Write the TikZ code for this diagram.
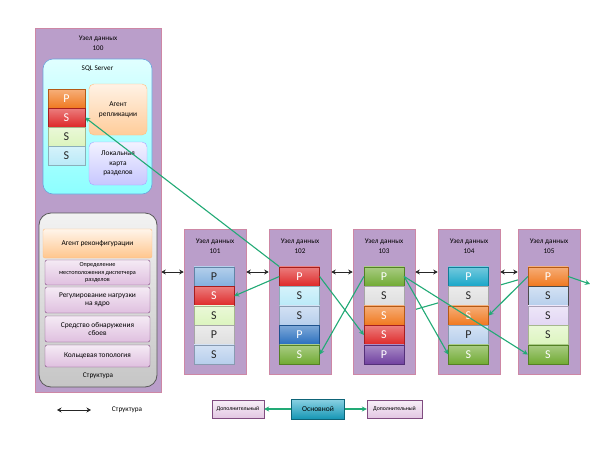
\documentclass[tikz,border=0pt]{standalone}
\usepackage{fontspec}
\setmainfont{Carlito}
\usetikzlibrary{arrows.meta,calc,shadings}
\definecolor{nodefill}{RGB}{186,158,202}
\definecolor{nodeline}{RGB}{205,135,165}
\definecolor{grn}{RGB}{34,170,118}
\definecolor{cR}{RGB}{222,40,40}
\definecolor{cO}{RGB}{240,120,30}
\definecolor{cLG}{RGB}{220,244,190}
\definecolor{cLC}{RGB}{186,234,248}
\definecolor{cLB}{RGB}{182,206,236}
\definecolor{cSB}{RGB}{130,176,222}
\definecolor{cGy}{RGB}{222,222,222}
\definecolor{cB}{RGB}{40,110,190}
\definecolor{cG}{RGB}{112,170,50}
\definecolor{cPu}{RGB}{112,64,160}
\definecolor{cT}{RGB}{24,166,200}
\definecolor{cLav}{RGB}{226,214,244}
\tikzset{
  dnode/.style={draw=nodeline, fill=nodefill, line width=0.6pt, inner sep=0pt},
  pbox/.style={draw=#1!75!black, line width=0.3pt, top color=#1!60!white, bottom color=#1, minimum width=40pt, minimum height=19.5pt, inner sep=0pt, font=\fontsize{12}{12}\selectfont},
  pdark/.style={pbox=#1, text=white},
  plight/.style={pbox=#1, text=black!85},
  item/.style={draw=violet!45!gray, line width=0.4pt, rounded corners=2pt, top color=violet!8!white, bottom color=violet!25!white, minimum width=105pt, inner sep=0pt, align=center, font=\fontsize{7.4}{8.4}\selectfont},
  lbl/.style={font=\fontsize{7.2}{10}\selectfont, align=center, inner sep=0pt},
  garrow/.style={draw=grn, line width=1.1pt, -{Stealth[length=5pt,width=5pt]}},
  barrow/.style={draw=black!85, line width=0.9pt, {Stealth[length=4.5pt,width=5pt]}-{Stealth[length=4.5pt,width=5pt]}},
}
\begin{document}
\begin{tikzpicture}[x=1pt,y=-1pt]
\useasboundingbox (0,0) rectangle (600,450);
\fill[white] (0,0) rectangle (600,450);

% hidden line behind node 104
\coordinate (h1) at (403,313);
\coordinate (h2) at (528,277);
\draw[draw=grn, line width=1.1pt] (h1) -- (h2);

% ---------- node 100 ----------
\node[dnode, minimum width=126pt, minimum height=364pt] (n100) at (98,210) {};
\node[lbl] (t100) at (98,43) {Узел данных\\100};
\node[draw=cyan!60!blue!60, line width=0.6pt, rounded corners=10pt, top color=cyan!12!white, bottom color=cyan!45!white, minimum width=109pt, minimum height=135pt] (sql) at (97.5,126.5) {};
\node[lbl] (tsql) at (97.5,69) {SQL Server};
\node[plight=cO, text=white, minimum width=37pt, minimum height=19pt] (s1) at (66.5,99) {P};
\node[pdark=cR, minimum width=37pt, minimum height=19pt] (s2) at (66.5,117.5) {S};
\node[plight=cLG, minimum width=37pt, minimum height=19pt] (s3) at (66.5,136.5) {S};
\node[plight=cLC, minimum width=37pt, minimum height=19pt] (s4) at (66.5,155.5) {S};
\node[draw=orange!50, line width=0.4pt, rounded corners=5pt, top color=orange!10!white, bottom color=orange!40!white, minimum width=58pt, minimum height=51pt, align=center, font=\fontsize{7.4}{9.5}\selectfont] (repl) at (118,109.5) {Агент\\репликации};
\node[draw=blue!35, line width=0.4pt, rounded corners=5pt, top color=blue!5!white, bottom color=blue!22!white, minimum width=58pt, minimum height=43pt, align=center, font=\fontsize{7.4}{9.5}\selectfont] (map) at (118,163.5) {Локальная\\карта\\разделов};

\node[draw=black!65, line width=0.8pt, rounded corners=12pt, top color=gray!10, bottom color=gray!45, minimum width=118pt, minimum height=174pt] (str) at (98,300) {};
\node[item, draw=orange!50, top color=orange!8!white, bottom color=orange!45!white, minimum width=109pt, minimum height=29pt] (i1) at (97.5,243.5) {Агент реконфигурации};
\node[item, minimum height=25pt, font=\fontsize{6.2}{7.2}\selectfont] (i2) at (97.5,272.5) {Определение\\местоположения диспетчера\\разделов};
\node[item, minimum height=26pt] (i3) at (97.5,300) {Регулирование нагрузки\\на ядро};
\node[item, minimum height=26pt] (i4) at (97.5,329) {Средство обнаружения\\сбоев};
\node[item, minimum height=22pt] (i5) at (97.5,356) {Кольцевая топология};
\node[lbl] (tstr) at (98,376) {Структура};

% ---------- data nodes ----------
\node[dnode, minimum width=62pt, minimum height=145pt] (n101) at (215,301.5) {};
\node[dnode, minimum width=62pt, minimum height=145pt] (n102) at (300,301.5) {};
\node[dnode, minimum width=62pt, minimum height=145pt] (n103) at (384,301.5) {};
\node[dnode, minimum width=62pt, minimum height=145pt] (n104) at (469,301.5) {};
\node[dnode, minimum width=62pt, minimum height=145pt] (n105) at (549,301.5) {};
\node[lbl] (t101) at (215,246.5) {Узел данных\\101};
\node[lbl] (t102) at (300,246.5) {Узел данных\\102};
\node[lbl] (t103) at (384,246.5) {Узел данных\\103};
\node[lbl] (t104) at (469,246.5) {Узел данных\\104};
\node[lbl] (t105) at (549,246.5) {Узел данных\\105};

% 101
\node[plight=cSB] (a1) at (214,276.5) {P};
\node[pdark=cR] (a2) at (214,296) {S};
\node[plight=cLG] (a3) at (214,315.5) {S};
\node[plight=cGy] (a4) at (214,335) {P};
\node[plight=cLB] (a5) at (214,354.5) {S};
% 102
\node[pdark=cR] (b1) at (299.5,276.5) {P};
\node[plight=cLC] (b2) at (299.5,296) {S};
\node[plight=cLB] (b3) at (299.5,315.5) {S};
\node[pdark=cB] (b4) at (299.5,335) {P};
\node[pdark=cG] (b5) at (299.5,354.5) {S};
% 103
\node[pdark=cG] (c1) at (384,276.5) {P};
\node[plight=cGy] (c2) at (384,296) {S};
\node[pdark=cO] (c3) at (384,315.5) {S};
\node[pdark=cR] (c4) at (384,335) {S};
\node[pdark=cPu] (c5) at (384,354.5) {P};
% 104
\node[pdark=cT] (d1) at (468.5,276.5) {P};
\node[plight=cGy] (d2) at (468.5,296) {S};
\node[pdark=cO] (d3) at (468.5,315.5) {S};
\node[plight=cLB] (d4) at (468.5,335) {P};
\node[pdark=cG] (d5) at (468.5,354.5) {S};
% 105
\node[pdark=cO] (e1) at (548,276.5) {P};
\node[plight=cLB, draw=black!70, line width=0.7pt] (e2) at (548,296) {S};
\node[plight=cLav] (e3) at (548,315.5) {S};
\node[plight=cLG] (e4) at (548,335) {S};
\node[pdark=cG] (e5) at (548,354.5) {S};

% ---------- structure arrows ----------
\coordinate (ay) at (0,272);
\draw[barrow] (n100.east |- ay) -- (n101.west |- ay);
\draw[barrow] (n101.east |- ay) -- (n102.west |- ay);
\draw[barrow] (n102.east |- ay) -- (n103.west |- ay);
\draw[barrow] (n103.east |- ay) -- (n104.west |- ay);
\draw[barrow] (n104.east |- ay) -- (n105.west |- ay);

% ---------- replication arrows ----------
\coordinate (out) at (590,284);
\draw[garrow] (b1.north west) -- (s2.east);
\draw[garrow] (b1.west) -- (a2.east);
\draw[garrow] (b1.east) -- (c4.west);
\draw[garrow] (c1.west) -- (b5.east);
\draw[garrow] (c1.east) -- (d5.west);
\draw[garrow] (c1.east) -- (e5.west);
\draw[garrow] (e1.west) -- (d3.east);
\draw[garrow] (e1.east) -- (out);

% ---------- legend ----------
\coordinate (lg1) at (57,410);
\coordinate (lg2) at (91,410);
\draw[barrow] (lg1) -- (lg2);
\node[lbl] (lgt) at (127,410) {Структура};

\node[draw=violet!40!gray, line width=0.4pt, top color=violet!6!white, bottom color=violet!22!white, minimum width=52pt, minimum height=18pt, inner sep=0pt, font=\fontsize{5.8}{6}\selectfont] (dop1) at (238,409) {Дополнительный};
\node[draw=cT!60!black, line width=0.5pt, top color=cT!50!white, bottom color=cT!90!black, minimum width=53pt, minimum height=20pt, inner sep=0pt, font=\fontsize{7.5}{8}\selectfont] (osn) at (318,409) {Основной};
\node[draw=violet!40!gray, line width=0.4pt, top color=violet!6!white, bottom color=violet!22!white, minimum width=55pt, minimum height=18pt, inner sep=0pt, font=\fontsize{5.8}{6}\selectfont] (dop2) at (394.5,409) {Дополнительный};
\draw[garrow] (osn.west) -- (dop1.east);
\draw[garrow] (osn.east) -- (dop2.west);
\end{tikzpicture}
\end{document}
